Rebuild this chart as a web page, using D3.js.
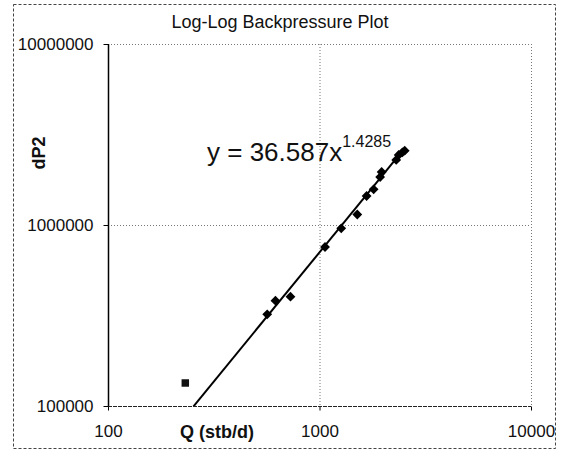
<!DOCTYPE html>
<html>
<head>
<meta charset="utf-8">
<script src="https://cdn.jsdelivr.net/npm/d3@7"></script>
<style>
  body { margin: 0; background: #fff; }
  svg text { font-family: "Liberation Sans", Arial, sans-serif; fill: #111; }
</style>
</head>
<body>
<div id="container"></div>
<script>
// Data
const qValues = [566, 619, 729, 1062, 1267, 1509, 1670, 1803, 1935, 1967, 2305, 2368, 2466, 2529];
const dp2Values = [321000, 382000, 402000, 756000, 959000, 1143000, 1446000, 1575000, 1841000, 1962000, 2287000, 2436000, 2521000, 2573000];
const outlierQ = [232];
const outlierDp2 = [134000];
const xTicks = [100, 1000, 10000];
const yTicks = [100000, 1000000, 10000000];
const trendCoef = 36.587;
const trendExp = 1.4285;

const width = 561;
const height = 453;

const svg = d3.select("#container")
    .append("svg")
    .attr("width", width)
    .attr("height", height);

// outer chart border
svg.append("rect")
    .attr("x", 13.5).attr("y", 4.5)
    .attr("width", 542).attr("height", 444)
    .attr("fill", "none")
    .attr("stroke", "#444")
    .attr("stroke-width", 1)
    .attr("stroke-dasharray", "3,2");

// scales
const xScale = d3.scaleLog().domain([100, 10000]).range([108, 531]);
const yScale = d3.scaleLog().domain([100000, 10000000]).range([406, 44]);

const plot = svg.append("g");

// gridlines (also form the top and right edges)
plot.selectAll(".vgrid")
    .data(xTicks.slice(1))
    .enter()
    .append("line")
    .attr("x1", d => xScale(d) + 0.5).attr("x2", d => xScale(d) + 0.5)
    .attr("y1", yScale(1e7)).attr("y2", yScale(1e5))
    .attr("stroke", "#777")
    .attr("stroke-dasharray", "1,2");

plot.selectAll(".hgrid")
    .data(yTicks.slice(1))
    .enter()
    .append("line")
    .attr("x1", xScale(100)).attr("x2", xScale(10000))
    .attr("y1", d => yScale(d) + 0.5).attr("y2", d => yScale(d) + 0.5)
    .attr("stroke", "#777")
    .attr("stroke-dasharray", "1,2");

// axes
const yAxis = d3.axisLeft(yScale)
    .tickValues(yTicks)
    .tickFormat(d3.format("d"))
    .tickSize(5)
    .tickPadding(10);
const gy = svg.append("g")
    .attr("transform", "translate(108.5,0)")
    .call(yAxis);
gy.select(".domain").remove();
gy.selectAll("text").attr("font-size", 17).style("font-family", "Liberation Sans, Arial, sans-serif");

const xAxis = d3.axisBottom(xScale)
    .tickValues(xTicks)
    .tickFormat(d3.format("d"))
    .tickSize(4)
    .tickPadding(14);
const gx = svg.append("g")
    .attr("transform", "translate(0,406.5)")
    .call(xAxis);
gx.select(".domain").remove();
gx.selectAll("text").attr("font-size", 17).style("font-family", "Liberation Sans, Arial, sans-serif");

// plot frame: left solid, bottom dark dashed
svg.append("line")
    .attr("x1", 108.5).attr("x2", 108.5)
    .attr("y1", yScale(1e7)).attr("y2", yScale(1e5) + 1)
    .attr("stroke", "#000").attr("stroke-width", 1.5);
svg.append("line")
    .attr("x1", xScale(100)).attr("x2", xScale(10000))
    .attr("y1", yScale(1e5) + 0.5).attr("y2", yScale(1e5) + 0.5)
    .attr("stroke", "#222").attr("stroke-width", 1.2)
    .attr("stroke-dasharray", "4,1");

// clip for trendline
svg.append("clipPath").attr("id", "plotclip")
    .append("rect")
    .attr("x", xScale(100)).attr("y", yScale(1e7))
    .attr("width", xScale(10000) - xScale(100))
    .attr("height", yScale(1e5) - yScale(1e7));

// power trendline
const qMin = d3.min(outlierQ.concat(qValues));
const qMax = d3.max(qValues);
const trendLine = d3.line()
    .x(d => xScale(d))
    .y(d => yScale(trendCoef * Math.pow(d, trendExp)));
svg.append("path")
    .datum([qMin, qMax])
    .attr("clip-path", "url(#plotclip)")
    .attr("d", trendLine)
    .attr("fill", "none")
    .attr("stroke", "#000")
    .attr("stroke-width", 2);

// diamond markers
const diamond = d3.symbol().type(d3.symbolSquare).size(48);
svg.selectAll(".pt")
    .data(qValues)
    .enter()
    .append("path")
    .attr("class", "pt")
    .attr("d", diamond)
    .attr("transform", (d, i) => `translate(${xScale(d)},${yScale(dp2Values[i])}) rotate(45)`)
    .attr("fill", "#000");

// odd point drawn as a square
svg.selectAll(".sq")
    .data(outlierQ)
    .enter()
    .append("path")
    .attr("class", "sq")
    .attr("d", d3.symbol().type(d3.symbolSquare).size(56))
    .attr("transform", (d, i) => `translate(${xScale(d)},${yScale(outlierDp2[i])})`)
    .attr("fill", "#111");

// title
svg.append("text")
    .attr("x", 280).attr("y", 28)
    .attr("text-anchor", "middle")
    .attr("font-size", 18)
    .text("Log-Log Backpressure Plot");

// axis titles
svg.append("text")
    .attr("x", 217).attr("y", 438)
    .attr("text-anchor", "middle")
    .attr("font-size", 18)
    .attr("font-weight", "bold")
    .text("Q (stb/d)");

svg.append("text")
    .attr("transform", "translate(45,153) rotate(-90)")
    .attr("text-anchor", "middle")
    .attr("font-size", 18)
    .attr("font-weight", "bold")
    .text("dP2");

// trendline equation
const eq = svg.append("text")
    .attr("x", 207).attr("y", 161)
    .attr("font-size", 26);
eq.append("tspan").text("y = " + trendCoef + "x");
eq.append("tspan")
    .attr("font-size", 16)
    .attr("dy", -14)
    .text(trendExp);
</script>
</body>
</html>
